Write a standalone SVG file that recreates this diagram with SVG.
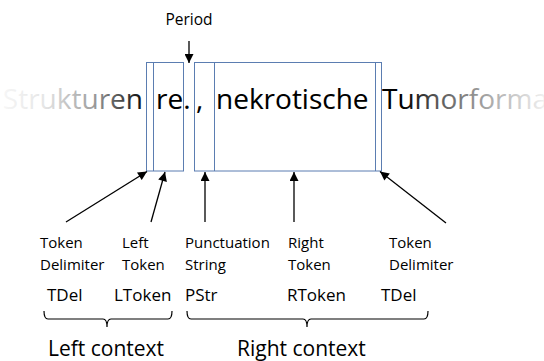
<svg xmlns="http://www.w3.org/2000/svg" width="544" height="361" viewBox="0 0 544 361">
<style>
  text { font-family: "Open Sans", "Liberation Sans", sans-serif; fill: #000; }
  .main { font-size: 28px; }
  .lbl { font-size: 15px; }
  .abbr { font-size: 17px; }
  .ctx { font-size: 21px; }
  .box { fill: none; stroke: #5b7db1; stroke-width: 1; }
  .arr { stroke: #000; stroke-width: 1.3; fill: none; marker-end: url(#ah); }
  .brace { stroke: #000; stroke-width: 1.2; fill: none; }
</style>
<defs>
  <marker id="ah" viewBox="0 0 10 10" refX="10" refY="5" markerUnits="userSpaceOnUse" markerWidth="10" markerHeight="9" orient="auto">
    <path d="M0,0 L10,5 L0,10 Z" fill="#000"/>
  </marker>
  <linearGradient id="fade" gradientUnits="userSpaceOnUse" x1="0" y1="0" x2="544" y2="0">
    <stop offset="0" stop-color="#f7f7f7"/>
    <stop offset="0.08" stop-color="#e6e6e6"/>
    <stop offset="0.17" stop-color="#a0a0a0"/>
    <stop offset="0.25" stop-color="#202020"/>
    <stop offset="0.27" stop-color="#000"/>
    <stop offset="0.74" stop-color="#000"/>
    <stop offset="0.80" stop-color="#555"/>
    <stop offset="0.90" stop-color="#aaa"/>
    <stop offset="1" stop-color="#f0f0f0"/>
  </linearGradient>
</defs>

<g id="period-label">
  <text class="lbl" x="189" y="25" text-anchor="middle" style="font-size:15.5px">Period</text>
</g>

<g id="sentence">
  <text class="main" x="143" y="109" text-anchor="end" style="fill:url(#fade)">Strukturen</text>
  <text class="main" x="156" y="109" style="fill:url(#fade)">re.</text>
  <text class="main" x="196" y="109" style="fill:url(#fade)">,</text>
  <text class="main" x="216" y="109" style="fill:url(#fade)">nekrotische</text>
  <text class="main" x="382" y="109" style="fill:url(#fade)">Tumorforma</text>
</g>

<g id="left-box">
  <rect class="box" x="146.5" y="62.5" width="37" height="108.5"/>
  <line class="box" x1="153.5" y1="62.5" x2="153.5" y2="171"/>
</g>
<g id="right-box">
  <rect class="box" x="194.5" y="62.5" width="187" height="108.5"/>
  <line class="box" x1="214.5" y1="62.5" x2="214.5" y2="171"/>
  <line class="box" x1="375.5" y1="62.5" x2="375.5" y2="171"/>
</g>

<g id="connectors">
  <line class="arr" x1="189" y1="41" x2="189" y2="63"/>
  <line class="arr" x1="66" y1="222" x2="147" y2="171.5"/>
  <line class="arr" x1="151" y1="222" x2="165" y2="172"/>
  <line class="arr" x1="205" y1="222" x2="205" y2="172"/>
  <line class="arr" x1="294" y1="222" x2="294" y2="172"/>
  <line class="arr" x1="446" y1="223" x2="380" y2="171.5"/>
</g>

<g id="label-tdel-left">
  <text class="lbl" x="40" y="248">Token</text>
  <text class="lbl" x="40" y="270">Delimiter</text>
  <text class="abbr" x="47" y="301">TDel</text>
</g>
<g id="label-ltoken">
  <text class="lbl" x="122" y="248">Left</text>
  <text class="lbl" x="122" y="270">Token</text>
  <text class="abbr" x="114" y="301">LToken</text>
</g>
<g id="label-pstr">
  <text class="lbl" x="185" y="248">Punctuation</text>
  <text class="lbl" x="185" y="270">String</text>
  <text class="abbr" x="185" y="301">PStr</text>
</g>
<g id="label-rtoken">
  <text class="lbl" x="288" y="248">Right</text>
  <text class="lbl" x="288" y="270">Token</text>
  <text class="abbr" x="287" y="301">RToken</text>
</g>
<g id="label-tdel-right">
  <text class="lbl" x="389" y="248">Token</text>
  <text class="lbl" x="389" y="270">Delimiter</text>
  <text class="abbr" x="381" y="301">TDel</text>
</g>

<g id="left-context">
  <path class="brace" d="M44,311 Q44,319 48,319 L103,319 Q107,319 107,327 Q107,319 111,319 L168,319 Q172,319 172,311"/>
  <text class="ctx" x="48" y="356">Left context</text>
</g>
<g id="right-context">
  <path class="brace" d="M187,311 Q187,319 191,319 L303,319 Q307,319 307,327 Q307,319 311,319 L424,319 Q428,319 428,311"/>
  <text class="ctx" x="237" y="356">Right context</text>
</g>
</svg>
